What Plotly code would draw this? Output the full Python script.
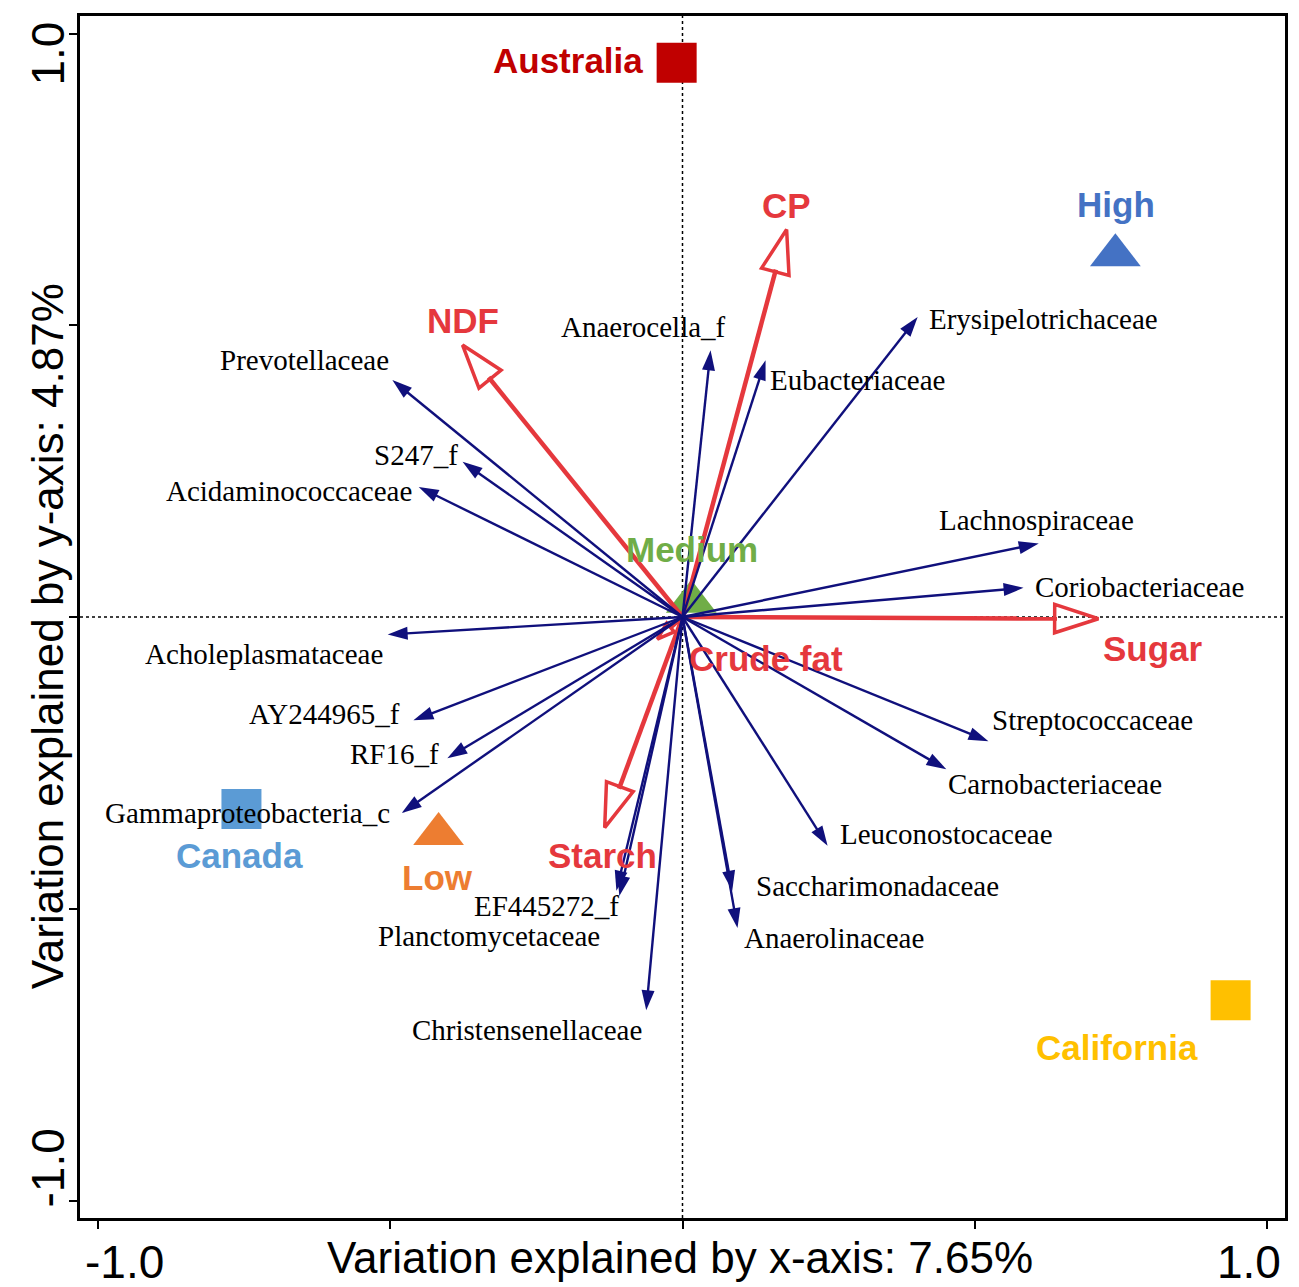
import math
import plotly.graph_objects as go

# taxa (blue arrows)
species = ["Prevotellaceae", "S247_f", "Acidaminococcaceae", "Acholeplasmataceae",
           "AY244965_f", "RF16_f", "Gammaproteobacteria_c", "EF445272_f",
           "Planctomycetaceae", "Christensenellaceae", "Anaerolinaceae",
           "Saccharimonadaceae", "Leuconostocaceae", "Carnobacteriaceae",
           "Streptococcaceae", "Coriobacteriaceae", "Lachnospiraceae",
           "Erysipelotrichaceae", "Eubacteriaceae", "Anaerocella_f"]
species_x = [-0.496, -0.376, -0.451, -0.504, -0.460, -0.402, -0.480, -0.108,
             -0.113, -0.062, 0.094, 0.085, 0.248, 0.451, 0.523, 0.583, 0.609,
             0.402, 0.142, 0.048]
species_y = [0.406, 0.266, 0.223, -0.030, -0.177, -0.242, -0.336, -0.478,
             -0.469, -0.674, -0.533, -0.469, -0.392, -0.261, -0.213, 0.050,
             0.126, 0.514, 0.440, 0.457]

# diet variables (red arrows)
env_vars = ["CP", "NDF", "Sugar", "Starch", "Crude fat"]
env_x = [0.178, -0.376, 0.711, -0.133, -0.043]
env_y = [0.664, 0.466, -0.003, -0.361, -0.038]

# sample groups
groups = ["Australia", "High", "Medium", "Low", "Canada", "California"]
group_x = [-0.010, 0.740, 0.015, -0.417, -0.754, 0.937]
group_y = [0.950, 0.620, 0.026, -0.372, -0.329, -0.657]

NAVY = "#10107c"
RED = "#e5383d"
group_style = {
    "Australia": ("square", "#c00000"),
    "High": ("triangle-up", "#4472c4"),
    "Medium": ("triangle-up", "#70ad47"),
    "Low": ("triangle-up", "#ed7d31"),
    "Canada": ("square", "#5b9bd5"),
    "California": ("square", "#ffc000"),
}

# label placement relative to the arrow tip / marker: (xanchor, xshift, yshift) in px
species_lbl = {
    "Prevotellaceae": ("right", -1, 20),
    "S247_f": ("right", -3, 7),
    "Acidaminococcaceae": ("right", -5, -4),
    "Acholeplasmataceae": ("right", -3, -19),
    "AY244965_f": ("right", -11, 6),
    "RF16_f": ("right", -6, 4),
    "Gammaproteobacteria_c": ("right", -10, 0),
    "EF445272_f": ("right", 2, -10),
    "Planctomycetaceae": ("right", -14, -45),
    "Christensenellaceae": ("right", -2, -20),
    "Anaerolinaceae": ("left", 5, -10),
    "Saccharimonadaceae": ("left", 22, 5),
    "Leuconostocaceae": ("left", 10, 12),
    "Carnobacteriaceae": ("left", 0, -15),
    "Streptococcaceae": ("left", 2, 21),
    "Coriobacteriaceae": ("left", 9, 1),
    "Lachnospiraceae": ("center", -2, 23),
    "Erysipelotrichaceae": ("left", 9, -2),
    "Eubacteriaceae": ("left", 2, -20),
    "Anaerocella_f": ("right", 17, 23),
}
env_lbl = {
    "CP": ("center", 0, 24),
    "NDF": ("center", 0, 25),
    "Sugar": ("center", 55, -30),
    "Starch": ("center", -2, -28),
    "Crude fat": ("left", 30, -19),
}
group_lbl = {
    "Australia": ("right", -32, 2),
    "High": ("center", 1, 51),
    "Medium": ("center", 1, 52),
    "Low": ("center", -1, -43),
    "Canada": ("center", -2, -47),
    "California": ("center", -114, -47),
}

PX_PER_UNIT = 585

fig = go.Figure()

# group markers (drawn first, under arrows)
fig.add_trace(go.Scatter(
    x=group_x, y=group_y, mode="markers",
    marker=dict(symbol=[group_style[g][0] for g in groups],
                color=[group_style[g][1] for g in groups],
                size=[40 if group_style[g][0] == "square" else 44 for g in groups],
                opacity=1, line=dict(width=0)),
    hoverinfo="skip", showlegend=False))

# red arrows with open heads
for name, x, y in zip(env_vars, env_x, env_y):
    length = math.hypot(x, y) * PX_PER_UNIT
    head = min(46, 0.55 * length)
    fig.add_trace(go.Scatter(
        x=[0, x], y=[0, y], mode="lines+markers",
        line=dict(color=RED, width=4.5, backoff=0.9 * head),
        marker=dict(symbol="arrow-open", size=[0, head], angleref="previous",
                    color=RED, opacity=1, line=dict(color=RED, width=3.5)),
        hoverinfo="skip", showlegend=False))

# blue arrows
for name, x, y in zip(species, species_x, species_y):
    fig.add_trace(go.Scatter(
        x=[0, x], y=[0, y], mode="lines+markers",
        line=dict(color=NAVY, width=2.4),
        marker=dict(symbol="arrow", size=[0, 21], angleref="previous", color=NAVY,
                    opacity=1, line=dict(width=0)),
        hoverinfo="skip", showlegend=False))

annotations = []
for name, x, y in zip(species, species_x, species_y):
    anc, dx, dy = species_lbl[name]
    annotations.append(dict(x=x, y=y, text=name, showarrow=False, xanchor=anc,
                            yanchor="middle", xshift=dx, yshift=dy,
                            font=dict(family="Liberation Serif", size=29, color="black")))
for name, x, y in zip(env_vars, env_x, env_y):
    anc, dx, dy = env_lbl[name]
    annotations.append(dict(x=x, y=y, text=name, showarrow=False, xanchor=anc,
                            yanchor="middle", xshift=dx, yshift=dy,
                            font=dict(family="Liberation Sans", size=35, color=RED,
                                      weight="bold")))
for name, x, y in zip(groups, group_x, group_y):
    anc, dx, dy = group_lbl[name]
    annotations.append(dict(x=x, y=y, text=name, showarrow=False, xanchor=anc,
                            yanchor="middle", xshift=dx, yshift=dy,
                            font=dict(family="Liberation Sans", size=35,
                                      color=group_style[name][1], weight="bold")))

# axis tick labels and titles
tick_font = dict(family="Liberation Sans", size=46, color="black")
title_font = dict(family="Liberation Sans", size=44, color="black")
annotations += [
    dict(x=-1, y=0, xref="x", yref="paper", text="-1.0", showarrow=False,
         xanchor="center", yanchor="middle", xshift=27, yshift=-44, font=tick_font),
    dict(x=1, y=0, xref="x", yref="paper", text="1.0", showarrow=False,
         xanchor="center", yanchor="middle", xshift=-18, yshift=-44, font=tick_font),
    dict(x=0, y=1, xref="paper", yref="y", text="1.0", showarrow=False, textangle=-90,
         xanchor="center", yanchor="middle", xshift=-33, yshift=-20, font=tick_font),
    dict(x=0, y=-1, xref="paper", yref="y", text="-1.0", showarrow=False, textangle=-90,
         xanchor="center", yanchor="middle", xshift=-33, yshift=32, font=tick_font),
    dict(x=-0.005, y=0, xref="x", yref="paper", text="Variation explained by x-axis: 7.65%",
         showarrow=False, xanchor="center", yanchor="middle", yshift=-39, font=title_font),
    dict(x=0, y=-0.033, xref="paper", yref="y", text="Variation explained by y-axis: 4.87%",
         showarrow=False, textangle=-90, xanchor="center", yanchor="middle", xshift=-33,
         font=title_font),
]

axis_style = dict(range=[-1.03, 1.03], tickvals=[-1, -0.5, 0, 0.5, 1],
                  showticklabels=False, ticks="outside", ticklen=8, tickwidth=2,
                  tickcolor="black", showline=True, linewidth=2.5, linecolor="black",
                  mirror=True, showgrid=False, zeroline=False)

# the page body adds an 8px offset, so the figure is a little smaller than the window
fig.update_layout(
    width=1291, height=1279,
    margin=dict(l=72, r=14, t=5, b=69),
    plot_bgcolor="white", paper_bgcolor="white",
    xaxis=axis_style, yaxis=axis_style,
    annotations=annotations,
    shapes=[
        dict(type="line", xref="x", yref="paper", x0=0, x1=0, y0=0, y1=1,
             line=dict(color="black", width=1.5, dash="dot"), layer="below"),
        dict(type="line", xref="paper", yref="y", x0=0, x1=1, y0=0, y1=0,
             line=dict(color="black", width=1.5, dash="dot"), layer="below"),
    ],
)

fig.write_html("out.html")
